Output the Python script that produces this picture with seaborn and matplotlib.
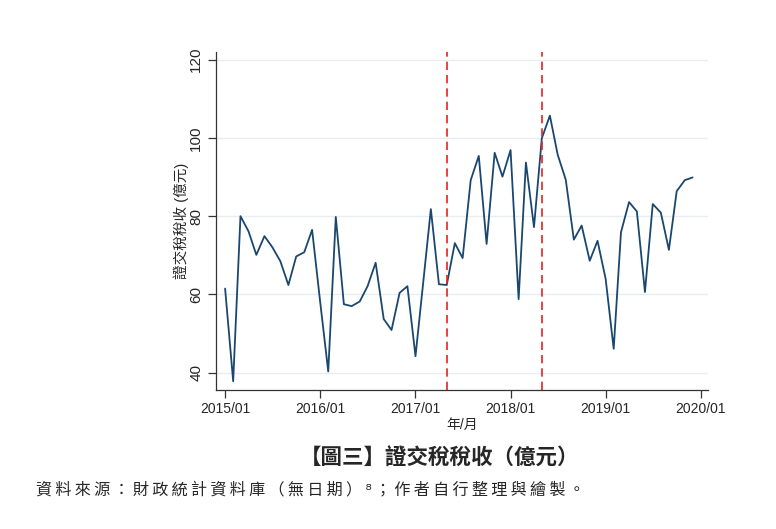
import numpy as np
import pandas as pd
import matplotlib
matplotlib.use("Agg")
import matplotlib.pyplot as plt
import matplotlib.dates as mdates
import seaborn as sns

# monthly securities transaction tax revenue, 2015/01 - 2019/12 (億元)
months = pd.date_range("2015-01-01", "2019-12-01", freq="MS")
tax_revenue = [
    61.5, 37.8, 80.0, 76.1, 70.1, 74.9, 72.1, 68.5, 62.4, 69.7, 70.8, 76.5,
    58.1, 40.3, 79.8, 57.5, 57.0, 58.2, 62.1, 68.1, 53.7, 50.9, 60.4, 62.1,
    44.2, 63.9, 81.8, 62.6, 62.4, 73.1, 69.3, 89.2, 95.4, 72.9, 96.2, 90.1,
    96.9, 58.8, 93.7, 77.2, 99.9, 105.7, 95.7, 89.3, 74.0, 77.6, 68.6, 73.7,
    64.0, 46.1, 75.9, 83.6, 81.2, 60.6, 83.1, 80.9, 71.4, 86.4, 89.2, 89.9,
]
event_dates = ["2017-05-01", "2018-05-01"]
tick_years = ["2015-01-01", "2016-01-01", "2017-01-01", "2018-01-01", "2019-01-01", "2020-01-01"]
tick_labels = ["2015/01", "2016/01", "2017/01", "2018/01", "2019/01", "2020/01"]
y_ticks = [40, 60, 80, 100, 120]

df = pd.DataFrame({"month": months, "tax": tax_revenue})

sns.set_style("white")
plt.rcParams["font.family"] = ["Liberation Sans", "Noto Sans CJK TC", "DejaVu Sans"]

fig = plt.figure(figsize=(7.76, 5.29), dpi=100)
ax = fig.add_axes([0.278, 0.263, 0.634, 0.639])

ax.grid(axis="y", color="#e6eef1", linewidth=1.0)
ax.set_axisbelow(True)

sns.lineplot(data=df, x="month", y="tax", color="#1a476f", linewidth=1.3, ax=ax)

for d in event_dates:
    ax.axvline(pd.Timestamp(d), color="#e3241b", linestyle=(0, (5, 3)), linewidth=1.2)

ax.set_ylim(35.6, 122)
ax.set_xlim(pd.Timestamp("2014-11-26"), pd.Timestamp("2020-01-28"))
ax.set_yticks(y_ticks)
ax.set_xticks([pd.Timestamp(t) for t in tick_years])
ax.set_xticklabels(tick_labels, fontsize=10, family=["Liberation Sans Narrow", "Liberation Sans"])
ax.set_yticklabels([str(v) for v in y_ticks], fontsize=11, rotation=90, va="center")

ax.tick_params(axis="both", direction="out", length=6, width=0.9, color="#333333",
               left=True, bottom=True, pad=3)
for s in ["top", "right"]:
    ax.spines[s].set_visible(False)
for s in ["left", "bottom"]:
    ax.spines[s].set_color("#333333")
    ax.spines[s].set_linewidth(0.9)

ax.set_xlabel("年/月", fontsize=10, labelpad=1)
ax.set_ylabel("證交稅稅收 (億元)", fontsize=10.5, labelpad=0)

fig.text(0.567, 0.134, "【圖三】證交稅稅收（億元）", ha="center", va="center",
         fontsize=15.5, fontweight="bold", family=["Noto Sans CJK TC", "DejaVu Sans"])

caption = "資料來源：財政統計資料庫（無日期）⁸；作者自行整理與繪製。"
fig.text(0.047, 0.073, "\u2009".join(caption), ha="left", va="center",
         fontsize=11.6, family=["Noto Sans CJK TC", "DejaVu Sans"])

fig.savefig("out.png", dpi=100)
